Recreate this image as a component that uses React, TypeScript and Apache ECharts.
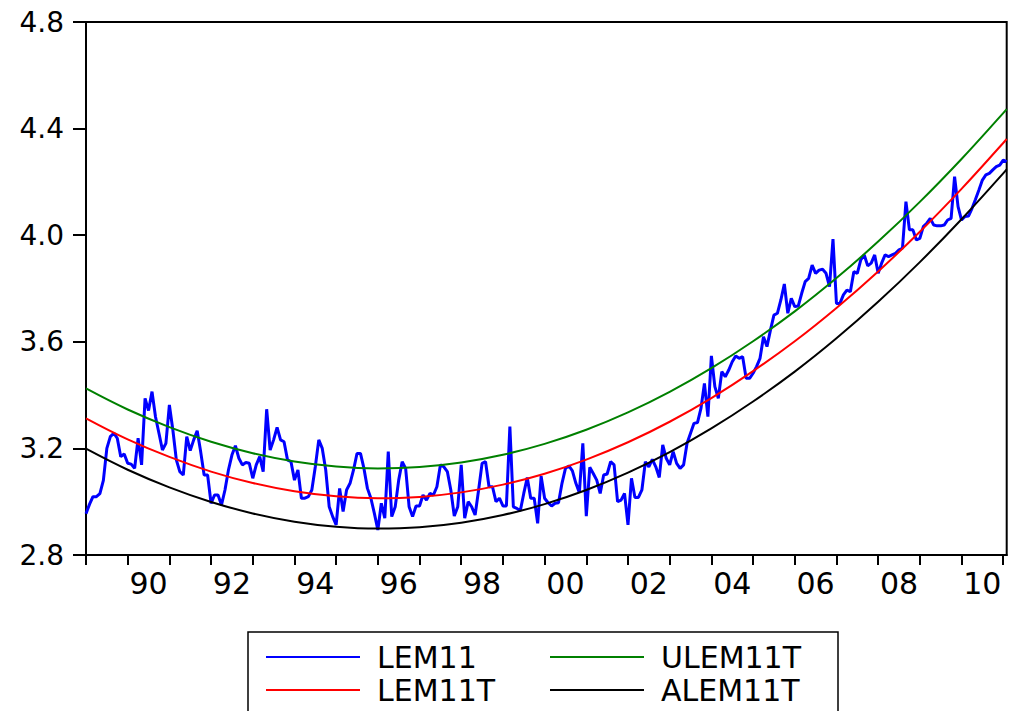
import React, { useEffect, useRef } from "react";
import * as echarts from "echarts";

// Monthly observations, 1989M01 onward
const START_YEAR = 1989;
const lem11 = [
  2.955, 2.99, 3.019, 3.019, 3.03, 3.08, 3.2, 3.244, 3.257, 3.238,
  3.169, 3.179, 3.144, 3.141, 3.125, 3.238, 3.138, 3.388, 3.342, 3.413,
  3.319, 3.257, 3.194, 3.219, 3.363, 3.269, 3.157, 3.113, 3.1, 3.244,
  3.192, 3.232, 3.266, 3.188, 3.1, 3.1, 2.994, 3.025, 3.025, 2.988,
  3.044, 3.119, 3.175, 3.21, 3.163, 3.138, 3.147, 3.144, 3.088, 3.138,
  3.169, 3.113, 3.347, 3.194, 3.232, 3.279, 3.232, 3.225, 3.157, 3.15,
  3.081, 3.119, 3.013, 3.013, 3.019, 3.044, 3.131, 3.232, 3.2, 3.119,
  2.981, 2.944, 2.913, 3.05, 2.963, 3.044, 3.069, 3.119, 3.181, 3.181,
  3.125, 3.05, 3.013, 2.956, 2.894, 2.994, 2.938, 3.188, 2.944, 2.981,
  3.081, 3.15, 3.125, 2.981, 2.944, 2.984, 2.984, 3.025, 3.006, 3.031,
  3.025, 3.056, 3.138, 3.131, 3.113, 3.044, 2.946, 2.981, 3.138, 2.938,
  3.0, 2.981, 2.95, 3.044, 3.144, 3.15, 3.056, 3.056, 3.0, 3.013,
  2.984, 2.984, 3.282, 2.981, 2.975, 2.966, 3.031, 3.091, 3.013, 3.013,
  2.919, 3.096, 3.013, 2.996, 2.984, 2.994, 2.996, 3.069, 3.125, 3.134,
  3.116, 3.069, 3.034, 3.219, 2.946, 3.129, 3.106, 3.081, 3.031, 3.1,
  3.104, 3.15, 3.138, 3.0, 3.006, 3.031, 2.913, 3.088, 3.016, 3.016,
  3.044, 3.15, 3.131, 3.159, 3.131, 3.091, 3.213, 3.163, 3.138, 3.188,
  3.144, 3.125, 3.138, 3.219, 3.257, 3.294, 3.297, 3.35, 3.444, 3.319,
  3.547, 3.432, 3.388, 3.488, 3.469, 3.494, 3.525, 3.547, 3.538, 3.544,
  3.463, 3.463, 3.482, 3.507, 3.538, 3.619, 3.582, 3.644, 3.7, 3.707,
  3.757, 3.817, 3.707, 3.763, 3.732, 3.734, 3.782, 3.826, 3.838, 3.888,
  3.857, 3.869, 3.872, 3.857, 3.807, 3.985, 3.744, 3.744, 3.776, 3.794,
  3.788, 3.863, 3.857, 3.907, 3.926, 3.885, 3.895, 3.926, 3.857, 3.895,
  3.926, 3.92, 3.926, 3.932, 3.945, 3.951, 4.126, 4.02, 4.02, 3.982,
  3.988, 4.032, 4.045, 4.063, 4.038, 4.035, 4.035, 4.038, 4.057, 4.063,
  4.22, 4.107, 4.057, 4.07, 4.072, 4.1, 4.134, 4.17, 4.207, 4.226,
  4.232, 4.245, 4.257, 4.263, 4.282, 4.276,
];

// Trend curves, read at each January (plus last month)
const trendDates = [
  1989, 1990, 1991, 1992, 1993, 1994, 1995, 1996, 1997, 1998, 1999, 2000,
  2001, 2002, 2003, 2004, 2005, 2006, 2007, 2008, 2009, 2010, 2011, 2011.0833,
];
const lem11t = [
  3.313, 3.234, 3.168, 3.113, 3.07, 3.039, 3.02, 3.013, 3.018, 3.035, 3.064, 3.105,
  3.158, 3.223, 3.3, 3.389, 3.49, 3.602, 3.727, 3.864, 4.013, 4.174, 4.346, 4.361,
];
const ulem11t = [
  3.425, 3.346, 3.28, 3.225, 3.182, 3.151, 3.132, 3.125, 3.13, 3.147, 3.176, 3.217,
  3.27, 3.335, 3.412, 3.501, 3.602, 3.714, 3.839, 3.976, 4.125, 4.286, 4.458, 4.473,
];
const alem11t = [
  3.199, 3.12, 3.054, 2.999, 2.956, 2.925, 2.906, 2.899, 2.904, 2.921, 2.95, 2.991,
  3.044, 3.109, 3.186, 3.275, 3.376, 3.488, 3.613, 3.75, 3.899, 4.06, 4.232, 4.247,
];

const yearTicks = [
  1989, 1990, 1991, 1992, 1993, 1994, 1995, 1996, 1997, 1998, 1999, 2000,
  2001, 2002, 2003, 2004, 2005, 2006, 2007, 2008, 2009, 2010, 2011,
];
const labelPositions = [
  1990.5, 1992.5, 1994.5, 1996.5, 1998.5, 2000.5, 2002.5, 2004.5, 2006.5, 2008.5, 2010.5,
];
const labelTexts = ["90", "92", "94", "96", "98", "00", "02", "04", "06", "08", "10"];

const seriesNames = ["LEM11", "LEM11T", "ULEM11T", "ALEM11T"];

const FONT = "DejaVu Sans";

export default function App() {
  const ref = useRef<HTMLDivElement>(null);
  useEffect(() => {
    document.body.style.margin = "0";
    if (!ref.current) return;
    const chart = echarts.init(ref.current, null, { renderer: "svg" });
    const blueData = lem11.map((v, i) => [START_YEAR + i / 12, v]);
    const trend = (arr: number[]) => arr.map((v, i) => [trendDates[i], v]);
    const legendText = {
      fontFamily: FONT,
      fontSize: 30,
      color: "#000",
      lineHeight: 30,
      padding: [0, 0, 0, 12],
    };
    const legendPos = [
      { left: 266, top: 642 },
      { left: 266, top: 675 },
      { left: 550, top: 642 },
      { left: 550, top: 675 },
    ];
    const legendOrder = [0, 1, 2, 3];
    chart.setOption({
      animation: false,
      backgroundColor: "#fff",
      grid: {
        left: 86,
        top: 22,
        width: 920.7,
        height: 533,
        show: true,
        borderColor: "#000",
        borderWidth: 2,
        backgroundColor: "transparent",
      },
      xAxis: {
        type: "value",
        min: 1989,
        max: 2011.0833,
        axisLine: { show: true, lineStyle: { color: "#000", width: 2 } },
        axisTick: {
          show: true,
          inside: false,
          length: 10,
          customValues: yearTicks,
          lineStyle: { color: "#000", width: 2 },
        },
        axisLabel: {
          customValues: labelPositions,
          formatter: (v: number) => {
            const idx = labelPositions.findIndex((p) => Math.abs(p - v) < 0.01);
            return idx >= 0 ? labelTexts[idx] : "";
          },
          fontFamily: FONT,
          fontSize: 30,
          color: "#000",
          margin: 13,
        },
        splitLine: { show: false },
      },
      yAxis: {
        type: "value",
        min: 2.8,
        max: 4.8,
        interval: 0.4,
        axisLine: { show: true, lineStyle: { color: "#000", width: 2 } },
        axisTick: { show: true, inside: false, length: 13, lineStyle: { color: "#000", width: 2 } },
        axisLabel: {
          formatter: (v: number) => v.toFixed(1),
          fontFamily: FONT,
          fontSize: 28,
          color: "#000",
          margin: 22,
        },
        splitLine: { show: false },
      },
      legend: legendOrder.map((k) => ({
        left: legendPos[k].left,
        top: legendPos[k].top,
        height: 40,
        orient: "horizontal",
        padding: 0,
        itemWidth: 94,
        itemHeight: 2,
        icon: "rect",
        selectedMode: false,
        data: [seriesNames[k]],
        textStyle: legendText,
      })),
      graphic: [
        {
          type: "rect",
          shape: { x: 248, y: 632, width: 590, height: 100 },
          style: { fill: "none", stroke: "#000", lineWidth: 1.5 },
          silent: true,
        },
      ],
      series: [
        {
          name: seriesNames[0],
          type: "line",
          data: blueData,
          showSymbol: false,
          color: "#0000ff",
          lineStyle: { color: "#0000ff", width: 3 },
        },
        {
          name: seriesNames[1],
          type: "line",
          data: trend(lem11t),
          showSymbol: false,
          smooth: 0.4,
          color: "#ff0000",
          lineStyle: { color: "#ff0000", width: 2 },
        },
        {
          name: seriesNames[2],
          type: "line",
          data: trend(ulem11t),
          showSymbol: false,
          smooth: 0.4,
          color: "#008000",
          lineStyle: { color: "#008000", width: 2 },
        },
        {
          name: seriesNames[3],
          type: "line",
          data: trend(alem11t),
          showSymbol: false,
          smooth: 0.4,
          color: "#000000",
          lineStyle: { color: "#000000", width: 2 },
        },
      ],
    });
    return () => chart.dispose();
  }, []);
  return <div ref={ref} style={{ width: 1010, height: 711 }} />;
}
